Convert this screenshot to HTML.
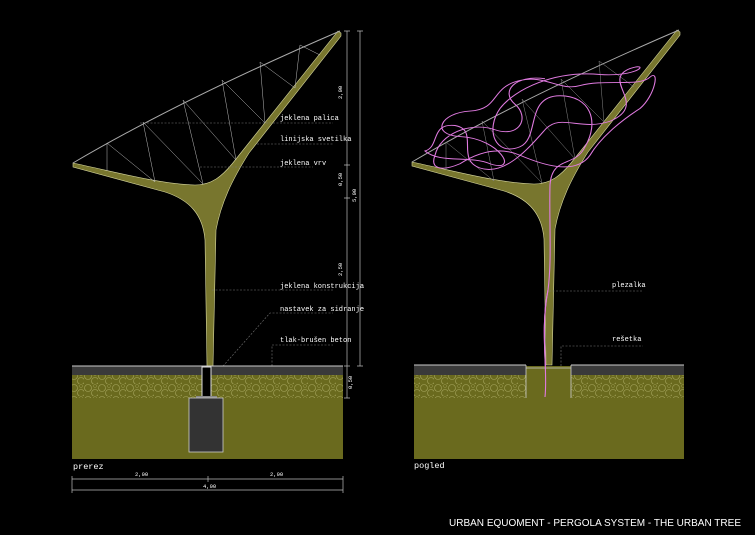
<!DOCTYPE html>
<html><head><meta charset="utf-8"><style>
html,body{margin:0;padding:0;background:#000;width:755px;height:535px;overflow:hidden}
svg{display:block}
text{font-family:"Liberation Mono",monospace;fill:#fff}
</style></head><body>
<svg width="755" height="535" viewBox="0 0 755 535" xmlns="http://www.w3.org/2000/svg">
<defs>
<pattern id="grav" width="14" height="12" patternUnits="userSpaceOnUse">
<rect width="14" height="12" fill="#6a6a1e"/>
<circle cx="4" cy="4" r="3.5" fill="none" stroke="#a8a860" stroke-width="0.6"/>
<circle cx="11" cy="9" r="3.5" fill="none" stroke="#a8a860" stroke-width="0.6"/>
<circle cx="11" cy="2" r="1.5" fill="none" stroke="#9a9a50" stroke-width="0.5"/>
</pattern>
<g id="tree">
<path d="M73,163 C120,173 160,184 195,185 C212,185 222,176 232,164 L338,31 L341,33 L341,36 L249,153 C232,180 221,203 216,230 L213,366 L207,366 L205,240 C203,215 190,200 165,192 L73,167 Z" fill="#78762e" stroke="#d8d8a0" stroke-width="0.6"/>
<path d="M73,163 Q180,100 340,31" fill="none" stroke="#aaa" stroke-width="1"/>
</g>
</defs>

<!-- LEFT -->
<use href="#tree"/>
<g stroke="#bbb" stroke-width="0.5" fill="none">
<path d="M107,143 L107,171 M107,143 L155,182 M143,122 L155,182 M143,122 L203,184 M183,100 L203,184 M183,100 L236,160 M222,80 L236,160 M222,80 L265,123 M260,62 L265,123 M260,62 L295,88 M300,45 L295,88 M300,45 L320,55"/>
</g>
<g stroke="#777" stroke-width="0.6" stroke-dasharray="2,1.5" fill="none">
<path d="M140,123 L333,123 M257,144 L333,144 M200,167 L313,167 M212,290 L333,290 M216,374 L270,313 L333,313 M272,366 L272,345 L333,345"/>
</g>
<g font-size="7">
<text x="280" y="120">jeklena palica</text>
<text x="280" y="141">linijska svetilka</text>
<text x="280" y="165">jeklena vrv</text>
<text x="280" y="288">jeklena konstrukcija</text>
<text x="280" y="311">nastavek za sidranje</text>
<text x="280" y="342">tlak-brušen beton</text>
</g>
<rect x="72" y="366" width="271" height="9" fill="#3a3a3a"/>
<line x1="72" y1="366" x2="343" y2="366" stroke="#ccc" stroke-width="1"/>
<rect x="72" y="375" width="271" height="23" fill="url(#grav)"/>
<rect x="72" y="398" width="271" height="61" fill="#6a6a1e"/>
<rect x="202" y="367" width="9" height="31" fill="#000" stroke="#ddd" stroke-width="1"/>
<rect x="196" y="396" width="21" height="2" fill="#888"/>
<rect x="189" y="398" width="34" height="54" fill="#333" stroke="#ccc" stroke-width="0.8"/>
<text x="73" y="469" font-size="8.5">prerez</text>
<g stroke="#bbb" stroke-width="0.7" fill="none">
<path d="M72,479 L343,479 M72,490 L343,490 M72,476 L72,493 M208,476 L208,482 M343,476 L343,493"/>
<path d="M347,31 L347,398 M360,31 L360,366 M344,31 L350,31 M344,165 L350,165 M344,198 L350,198 M344,366 L350,366 M344,398 L350,398 M357,31 L363,31 M357,366 L363,366"/>
</g>
<g font-size="5.5" fill="#ddd">
<text x="135" y="476">2,00</text><text x="270" y="476">2,00</text><text x="203" y="488">4,00</text>
<text transform="translate(342,99) rotate(-90)">2,00</text>
<text transform="translate(342,186) rotate(-90)">0,50</text>
<text transform="translate(356,202) rotate(-90)">5,00</text>
<text transform="translate(342,276) rotate(-90)">2,50</text>
<text transform="translate(352,389) rotate(-90)">0,50</text>
</g>

<!-- RIGHT -->
<use href="#tree" transform="translate(339,-1)"/>
<g stroke="#888" stroke-width="0.5" fill="none">
<path d="M446,142 L446,170 M446,142 L494,181 M482,121 L494,181 M482,121 L542,183 M522,99 L542,183 M522,99 L575,159 M561,79 L575,159 M561,79 L604,122 M599,61 L604,122 M599,61 L634,87"/>
</g>
<path d="M545,397 C548,370 540,330 548,290 C552,260 549,220 550,185" fill="none" stroke="#e07ae0" stroke-width="1.1"/>
<path transform="translate(0,27.75) scale(1,0.85)" d="M550,185 C552,150 575,165 585,140 C600,110 590,80 560,80 C525,80 540,130 520,140 C495,152 485,120 500,95 C515,72 555,50 600,55 C640,58 650,40 630,48 C600,62 650,90 610,110 C580,122 560,100 545,120 C530,140 505,175 480,165 C455,155 480,120 455,115 C430,112 440,140 425,145 C440,160 470,150 490,160 C520,172 500,130 460,128 C430,126 440,100 470,98 C500,96 490,70 520,62 C545,55 560,75 580,68 C605,60 640,70 650,58 C660,48 655,80 640,95 C620,110 600,130 590,150 C575,175 540,160 520,150 C500,140 480,145 460,160 C440,170 430,165 435,150 C440,125 470,110 495,120 C520,130 530,105 515,90 C500,75 515,55 545,60" fill="none" stroke="#e07ae0" stroke-width="1.1"/>
<g stroke="#777" stroke-width="0.6" stroke-dasharray="2,1.5" fill="none">
<path d="M549,291 L643,291 M561,366 L561,346 L643,346"/>
</g>
<g font-size="7">
<text x="612" y="287">plezalka</text>
<text x="612" y="341">rešetka</text>
</g>
<rect x="414" y="365" width="112" height="10" fill="#3a3a3a"/>
<rect x="571" y="365" width="113" height="10" fill="#3a3a3a"/>
<line x1="414" y1="365" x2="526" y2="365" stroke="#ccc" stroke-width="1"/>
<line x1="571" y1="365" x2="684" y2="365" stroke="#ccc" stroke-width="1"/>
<rect x="414" y="375" width="112" height="23" fill="url(#grav)"/>
<rect x="571" y="375" width="113" height="23" fill="url(#grav)"/>
<rect x="526" y="366" width="45" height="32" fill="#6a6a1e"/>
<path d="M526,365 L526,398 M571,365 L571,398 M526,368 L571,368" stroke="#ccc" stroke-width="0.8" fill="none"/>
<rect x="414" y="398" width="270" height="61" fill="#6a6a1e"/>
<path d="M545,397 C548,370 540,330 548,290" fill="none" stroke="#e07ae0" stroke-width="1.1"/>
<text x="414" y="468" font-size="8.5">pogled</text>

<text x="449" y="526" font-size="10.5" textLength="292" lengthAdjust="spacingAndGlyphs" style="font-family:'Liberation Sans',sans-serif">URBAN EQUOMENT - PERGOLA SYSTEM - THE URBAN TREE</text>
</svg>
</body></html>
